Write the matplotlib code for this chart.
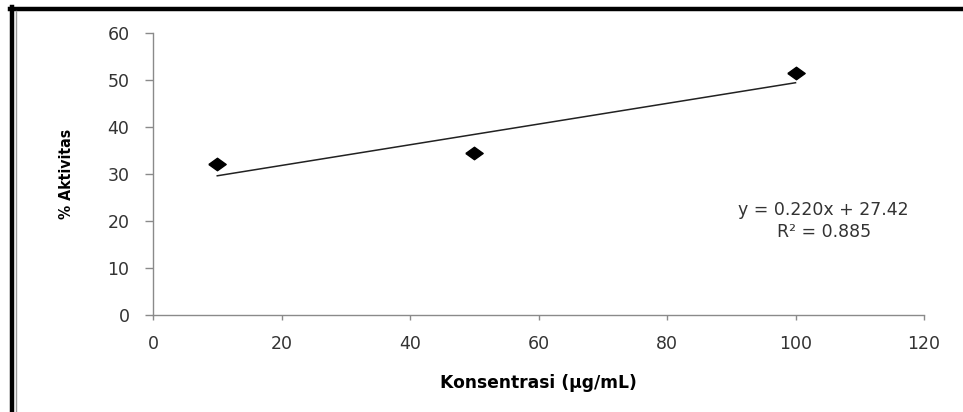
import numpy as np
import matplotlib
matplotlib.use("Agg")
import matplotlib.pyplot as plt
from matplotlib.lines import Line2D
from matplotlib import font_manager

# data
konsentrasi = [10, 50, 100]
aktivitas = [32.1, 34.5, 51.4]
slope, intercept = 0.220, 27.42
eq_lines = ["y = 0.220x + 27.42", "R\u00b2 = 0.885"]
x_ticks = [0, 20, 40, 60, 80, 100, 120]
y_ticks = [0, 10, 20, 30, 40, 50, 60]

FONT = "DejaVu Sans"
AXIS_GRAY = "#8a8a8a"

# narrow bold face for the y label, if one is around
narrow = None
for f in font_manager.fontManager.ttflist:
    if "Narrow" in f.name or "Condensed" in f.name or f.stretch in ("condensed", "semi-condensed"):
        if f.weight in ("bold", 700):
            narrow = f.fname
            break

fig = plt.figure(figsize=(9.63, 4.12), dpi=100)
ax = fig.add_axes([153 / 963, 1 - 315 / 412, (924 - 153) / 963, (315 - 33) / 412])

# diamond markers, a bit wider than tall like in the picture
diamond = [(-1, 0), (0, 0.72), (1, 0), (0, -0.72), (-1, 0)]
ax.plot(konsentrasi, aktivitas, linestyle="none", marker=diamond,
        markersize=12.5, color="black", zorder=3)

# linear trendline over the data range
xt = np.array([min(konsentrasi), max(konsentrasi)])
ax.plot(xt, slope * xt + intercept, color="#222222", linewidth=1.1, zorder=2)

ax.set_xlim(0, 120)
ax.set_ylim(0, 60)
ax.set_xticks(x_ticks)
ax.set_yticks(y_ticks)

for side in ("top", "right"):
    ax.spines[side].set_visible(False)
for side in ("left", "bottom"):
    ax.spines[side].set_color(AXIS_GRAY)
    ax.spines[side].set_linewidth(1.0)

ax.tick_params(axis="y", direction="out", length=6, width=1, color=AXIS_GRAY,
               pad=11, labelsize=12.5, labelcolor="#333333")
ax.tick_params(axis="x", direction="out", length=3.5, width=1, color=AXIS_GRAY,
               pad=11, labelsize=12.5, labelcolor="#333333")
for lab in ax.get_xticklabels() + ax.get_yticklabels():
    lab.set_family(FONT)

ax.set_xlabel("Konsentrasi (\u00b5g/mL)", family=FONT, fontweight="bold",
              fontsize=12.3, labelpad=15)
if narrow:
    ylab_font = font_manager.FontProperties(fname=narrow, size=11.3)
else:
    ylab_font = font_manager.FontProperties(family=FONT, weight="bold",
                                            stretch="condensed", size=10)
ax.set_ylabel("% Aktivitas", fontproperties=ylab_font, labelpad=24)
ax.patch.set_alpha(0)

# regression label
ax.text(104.4, 22.3, eq_lines[0], family=FONT, fontsize=12.5,
        color="#333333", ha="center", va="center")
ax.text(104.4, 17.6, eq_lines[1], family=FONT, fontsize=12.5,
        color="#333333", ha="center", va="center")

# page frame at the left and top
W, H = 963, 412
fig.add_artist(Line2D([12 / W, 12 / W], [0, 1 - 7 / H], color="black", linewidth=3.2))
fig.add_artist(Line2D([10 / W, 1], [1 - 9 / H, 1 - 9 / H], color="black", linewidth=3.2))
fig.add_artist(Line2D([15.5 / W, 15.5 / W], [0, 1 - 11 / H], color="#999999", linewidth=1.0))

fig.savefig("out.png", dpi=100)
